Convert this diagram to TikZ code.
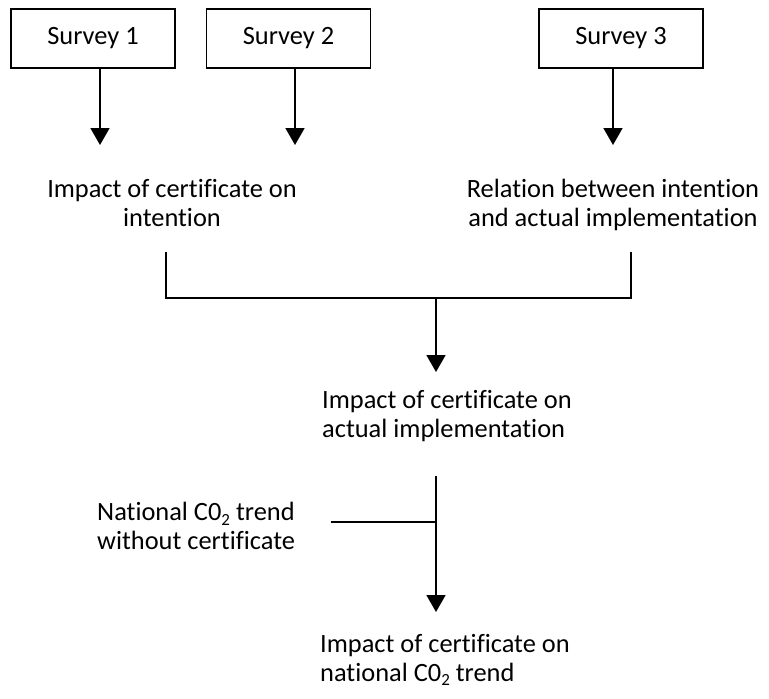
\documentclass[tikz,border=0pt]{standalone}
\usepackage{fontspec}
\setmainfont{Carlito}[Ligatures=CommonOff]
\usetikzlibrary{arrows.meta}
\newcommand{\lowtwo}{\raisebox{-4.5pt}{\fontsize{17}{17}\selectfont 2}}
\begin{document}
\begin{tikzpicture}[x=1pt,y=-1pt,
  txt/.style={inner sep=0pt,font=\fontsize{26.4}{28.5}\selectfont},
  box/.style={txt,draw,line width=1.8pt,minimum width=164pt,minimum height=59pt},
  ln/.style={line width=1.8pt},
  arr/.style={line width=1.8pt,-{Triangle[width=19pt,length=17pt]}}]
\useasboundingbox (0,0) rectangle (769,699);
% survey boxes
\node[box] (s1) at (93,38.5) {Survey 1};
\node[box] (s2) at (288.5,38.5) {Survey 2};
\node[box] (s3) at (621,38.5) {Survey 3};
% arrows from boxes
\coordinate (a1) at (100,145);
\coordinate (a2) at (295,145);
\coordinate (a3) at (613,145);
\draw[arr] (s1.south -| a1) -- (a1);
\draw[arr] (s2.south -| a2) -- (a2);
\draw[arr] (s3.south -| a3) -- (a3);
% first results (anchor base = last line)
\node[txt,align=center,anchor=base] (ic) at (172,226) {Impact of certificate on\\intention};
\node[txt,align=center,anchor=base] (rl) at (613,226) {Relation between intention\\and actual implementation};
% bracket
\coordinate (bl) at (166,252);
\coordinate (br) at (631,252);
\coordinate (bj) at (436,298);
\coordinate (c1) at (436,372);
\draw[ln] (bl) |- (br |- bj) -- (br);
\draw[arr] (bj) -- (c1);
% actual implementation
\node[txt,align=left,anchor=base west] (ai) at (322,437) {Impact of certificate on\\actual implementation};
% national trend
\coordinate (v1) at (436,476);
\coordinate (v2) at (436,612);
\coordinate (st) at (331,522);
\draw[arr] (v1) -- (v2);
\draw[ln] (st) -- (st -| v1);
\node[txt,align=left,anchor=base west] (nt) at (97,549) {National C0\lowtwo{} trend\\without certificate};
\node[txt,align=left,anchor=base west] (nc) at (320,681) {Impact of certificate on\\national C0\lowtwo{} trend};
\end{tikzpicture}
\end{document}
